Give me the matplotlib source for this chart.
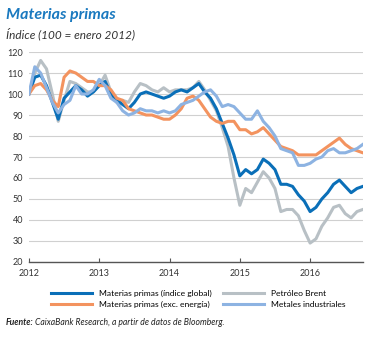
import numpy as np
import matplotlib
matplotlib.use('Agg')
import matplotlib.pyplot as plt

# monthly readings, Jan 2012 .. Oct 2016 (index, 100 = Jan 2012)
years = ['2012', '2013', '2014', '2015', '2016']

global_idx = [100, 108, 109, 104, 96, 88, 98, 101, 104, 102, 99, 101,
              104, 106, 100, 97, 95, 93, 96, 100, 101, 100, 99, 98,
              99, 101, 102, 101, 103, 105, 101, 98, 93, 86, 79, 71,
              61, 64, 62, 64, 69, 67, 64, 57, 57, 56, 52, 49,
              44, 46, 50, 53, 57, 59, 56, 53, 55, 56]
brent = [100, 110, 116, 112, 100, 87, 97, 106, 105, 103, 101, 101,
         104, 109, 101, 96, 97, 96, 101, 105, 104, 102, 101, 103,
         101, 102, 102, 102, 103, 106, 102, 97, 92, 84, 75, 60,
         47, 55, 53, 58, 63, 60, 55, 44, 45, 45, 42, 35,
         29, 31, 37, 41, 46, 47, 43, 41, 44, 45]
exc_energy = [100, 104, 105, 102, 97, 94, 108, 111, 110, 108, 106, 106,
              104, 104, 102, 98, 97, 93, 92, 91, 90, 90, 89, 88,
              88, 90, 93, 98, 99, 97, 93, 89, 87, 86, 87, 87,
              83, 83, 81, 82, 84, 81, 78, 75, 74, 73, 71, 71,
              71, 71, 73, 75, 77, 79, 76, 74, 73, 72]
metals = [100, 113, 110, 103, 96, 91, 95, 97, 104, 100, 100, 102,
          107, 104, 98, 96, 92, 90, 91, 93, 92, 92, 91, 92,
          91, 92, 95, 96, 97, 99, 101, 102, 99, 94, 95, 94,
          91, 88, 88, 92, 87, 84, 80, 74, 73, 72, 66, 66,
          67, 69, 70, 73, 74, 72, 72, 73, 74, 76]

t = 2012 + np.arange(len(global_idx)) / 12

c_global = '#0a6fb8'
c_brent = '#b8c0c5'
c_exc = '#f3935f'
c_metals = '#8db3e2'

plt.rcParams['font.family'] = ['Lato', 'DejaVu Sans']

fig = plt.figure(figsize=(3.71, 3.38), dpi=100)
ax = fig.add_axes([0.078, 0.225, 0.900, 0.621])

ax.plot(t, brent, color=c_brent, lw=2.2, label='Petróleo Brent', zorder=2)
ax.plot(t, global_idx, color=c_global, lw=2.2, label='Materias primas (índice global)', zorder=3)
ax.plot(t, exc_energy, color=c_exc, lw=2.2, label='Materias primas (exc. energía)', zorder=3)
ax.plot(t, metals, color=c_metals, lw=2.2, label='Metales industriales', zorder=4)

ax.set_xlim(2012, 2016.75)
ax.set_ylim(20, 120)
ax.set_yticks(range(20, 121, 10))
ax.set_xticks([int(y) for y in years])
ax.set_xticklabels(years)
ax.grid(axis='y', color='#d0d0d0', lw=0.8)
ax.set_axisbelow(True)
for s in ['left', 'right', 'top']:
    ax.spines[s].set_visible(False)
ax.spines['bottom'].set_color('#555555')
ax.spines['bottom'].set_linewidth(1.0)
ax.tick_params(axis='y', length=0, pad=4, labelsize=6.5, labelcolor='#333333')
ax.tick_params(axis='x', length=3, direction='in', color='#555555', pad=5,
               labelsize=6.5, labelcolor='#333333')

# legend in two columns below the plot
h, l = ax.get_legend_handles_labels()
order = [1, 2, 0, 3]
leg = fig.legend([h[i] for i in order], [l[i] for i in order], ncol=2,
                 loc='upper left', bbox_to_anchor=(0.128, 0.152), frameon=False,
                 fontsize=6.1, handlelength=4.8, handletextpad=0.9,
                 columnspacing=1.3, labelspacing=0.42, borderaxespad=0)
for line in leg.get_lines():
    line.set_linewidth(2.2)

fig.text(0.016, 0.955, 'Materias primas', color='#1a79bf', fontsize=11.5,
         fontweight='bold', fontstyle='italic', va='center', ha='left')
fig.text(0.016, 0.900, 'Índice (100 = enero 2012)', color='#333333', fontsize=8.5,
         fontstyle='italic', va='center', ha='left')

src = fig.text(0.016, 0.045, 'Fuente:', color='#222222', fontsize=6.2,
               fontweight='bold', fontstyle='italic', va='center', ha='left')
fig.canvas.draw()
bb = src.get_window_extent().transformed(fig.transFigure.inverted())
fig.text(bb.x1 + 0.004, 0.045, 'CaixaBank Research, a partir de datos de Bloomberg.',
         color='#222222', fontsize=6.2, fontstyle='italic', va='center', ha='left')

fig.savefig('out.png', dpi=100)
